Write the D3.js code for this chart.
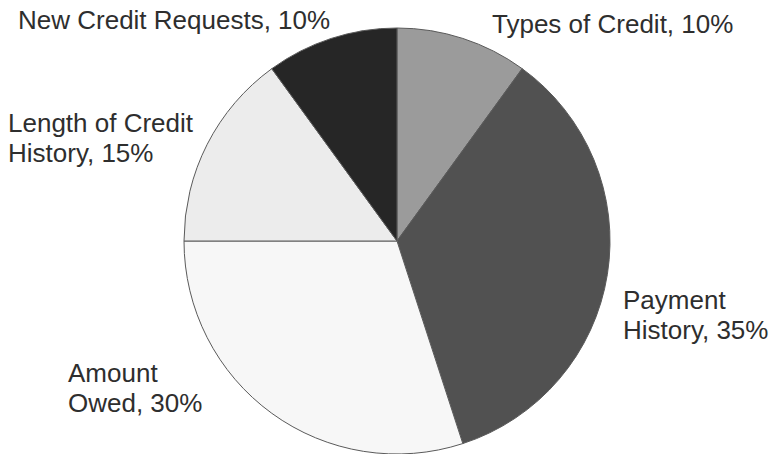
<!DOCTYPE html>
<html>
<head>
  <script src="https://d3js.org/d3.v7.min.js"></script>
  <style>
    body {
  margin: 0;
  background-color: #ffffff;
}

svg {
  display: block;
  font-family: 'Liberation Sans', Arial, sans-serif;
}

.slice {
  stroke: #5a5a5a;
  stroke-width: 1px;
}

.label {
  font-size: 26px;
  fill: #2e2e2e;
}
  </style>
</head>
<body>

<script>
// Slices in clockwise order from 12 o'clock.
const categories = ["Types of Credit", "Payment History", "Amount Owed", "Length of Credit History", "New Credit Requests"];
const shares = [10, 35, 30, 15, 10];
const fills = ["#9b9b9b", "#515151", "#f7f7f7", "#ececec", "#262626"];

// Label lines and where they sit on the page.
const labelLines = [
  ["Types of Credit, 10%"],
  ["Payment", "History, 35%"],
  ["Amount", "Owed, 30%"],
  ["Length of Credit", "History, 15%"],
  ["New Credit Requests, 10%"]
];
const labelPos = [[492, 33], [623, 309], [68, 382], [8, 132], [18, 29]];

const width = 777;
const height = 454;
const cx = 397, cy = 241, radius = 213;

const svg = d3.select("body")
  .append("svg")
  .attr("width", width)
  .attr("height", height);

const data = categories.map((c, i) => ({ name: c, value: shares[i], fill: fills[i] }));

const pie = d3.pie()
  .value(d => d.value)
  .sort(null);

const arc = d3.arc()
  .innerRadius(0)
  .outerRadius(radius);

const g = svg.append("g")
  .attr("transform", `translate(${cx},${cy})`);

g.selectAll(".slice")
  .data(pie(data))
  .enter()
  .append("path")
  .attr("class", "slice")
  .attr("d", arc)
  .attr("fill", d => d.data.fill);

// Labels, one text per label with a tspan per line.
const labels = svg.selectAll(".label")
  .data(labelLines)
  .enter()
  .append("text")
  .attr("class", "label")
  .attr("x", (d, i) => labelPos[i][0])
  .attr("y", (d, i) => labelPos[i][1]);

labels.selectAll("tspan")
  .data((d, i) => d.map(line => ({ line, x: labelPos[i][0] })))
  .enter()
  .append("tspan")
  .attr("x", d => d.x)
  .attr("dy", (d, j) => j === 0 ? 0 : 30)
  .text(d => d.line);
</script>
</body>
</html>
